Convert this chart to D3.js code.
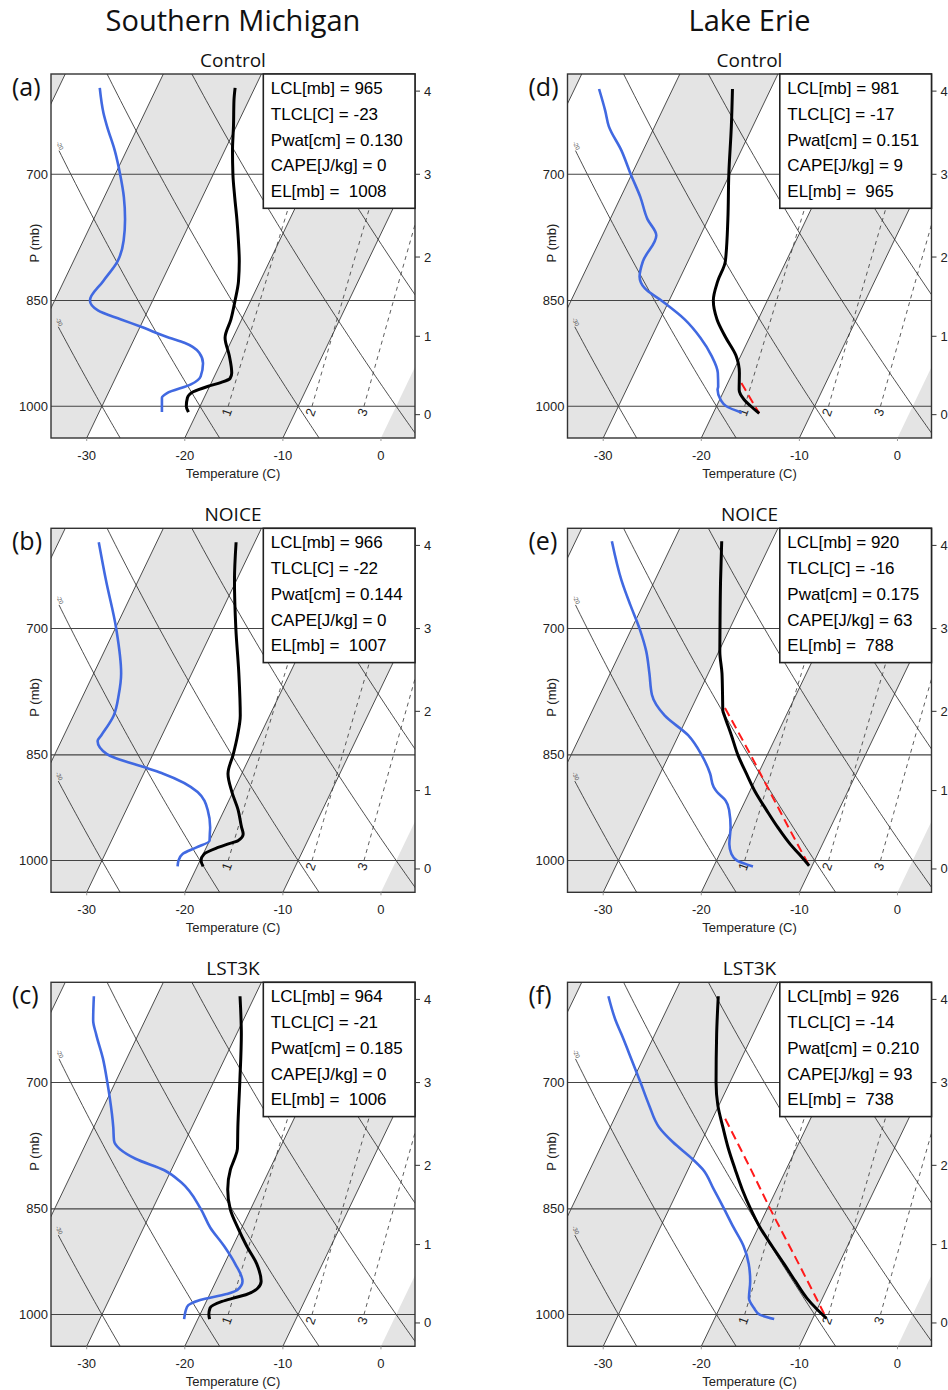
<!DOCTYPE html>
<html lang="en">
<head>
<meta charset="utf-8">
<title>Skew-T soundings</title>
<script src="https://cdn.jsdelivr.net/npm/d3@7"></script>
<style>
  body { margin: 0; background: #fff; }
  svg text { font-family: 'Liberation Sans', Arial, sans-serif; fill: #222; }
  svg text.big { font-family: 'Open Sans', sans-serif; fill: #111; }
</style>
</head>
<body>
<svg id="chart" width="948" height="1390"></svg>
<script>
// panels a,b,c = Southern Michigan, d,e,f = Lake Erie
var columnTitles = ["Southern Michigan", "Lake Erie"];
var rowTitles = ["Control", "NOICE", "LST3K"];
var panelLetters = ["(a)", "(b)", "(c)", "(d)", "(e)", "(f)"];

var lclMb = [965, 966, 964, 981, 920, 926];
var tlclC = [-23, -22, -21, -17, -16, -14];
var pwatCm = ["0.130", "0.144", "0.185", "0.151", "0.175", "0.210"];
var capeJkg = [0, 0, 0, 9, 63, 93];
var elMb = [1008, 1007, 1006, 965, 788, 738];

// soundings: [pressure (mb), value (C)]
var tempA = [[613,-32.0],[625,-31.5],[650,-30.3],[675,-29.2],[700,-28.0],[725,-26.7],[750,-25.4],[775,-24.2],[800,-23.1],[825,-22.2],[850,-21.6],[875,-21.1],[900,-20.8],[925,-19.5],[950,-18.4],[958,-18.3],[964,-19.0],[970,-20.2],[978,-21.4],[987,-21.7],[1000,-21.4],[1009,-20.9]];
var dewA = [[613,-45.8],[637,-44.2],[650,-43.2],[675,-41.2],[700,-39.5],[725,-38.0],[750,-36.8],[775,-35.9],[800,-35.5],[825,-36.0],[850,-36.4],[863,-35.1],[875,-32.3],[885,-29.9],[900,-26.5],[907,-24.7],[921,-22.7],[936,-21.8],[955,-21.4],[967,-22.0],[980,-24.0],[987,-24.3],[1009,-23.6]];

var tempB = [[613,-31.9],[650,-30.2],[700,-27.7],[750,-25.2],[800,-23.0],[825,-22.3],[850,-21.8],[875,-21.4],[900,-20.1],[925,-18.6],[950,-17.4],[960,-16.9],[970,-17.1],[975,-18.0],[980,-18.8],[990,-19.9],[1000,-19.9],[1009,-19.4]];
var dewB = [[613,-45.9],[650,-43.3],[700,-39.9],[750,-37.2],[775,-36.4],[800,-35.9],[825,-36.2],[832,-36.3],[849,-34.7],[868,-29.8],[875,-28.0],[900,-23.6],[925,-21.7],[950,-20.6],[960,-20.3],[970,-20.0],[980,-21.0],[990,-22.1],[1000,-22.2],[1009,-22.0]];

var tempC = [[613,-31.5],[650,-29.5],[700,-27.3],[750,-25.3],[775,-24.3],[788,-24.1],[800,-24.0],[825,-23.3],[850,-22.1],[875,-20.4],[900,-18.6],[925,-16.7],[950,-15.4],[960,-15.4],[970,-16.3],[975,-17.4],[980,-18.4],[990,-19.3],[1000,-19.1],[1007,-18.8]];
var dewC = [[613,-46.4],[636,-45.3],[650,-44.3],[675,-42.4],[700,-40.8],[715,-39.9],[750,-38.0],[765,-37.3],[787,-34.2],[801,-30.7],[816,-28.4],[850,-25.1],[875,-23.2],[900,-20.9],[925,-18.9],[950,-17.3],[963,-17.4],[969,-18.3],[978,-20.7],[988,-21.7],[1007,-21.4]];

var tempD = [[614,-33.9],[650,-32.2],[700,-30.1],[750,-28.0],[800,-26.2],[825,-26.0],[850,-25.5],[875,-24.2],[900,-22.4],[925,-20.5],[950,-19.3],[975,-18.5],[990,-17.5],[1000,-16.5],[1011,-15.3]];
var dewD = [[614,-47.5],[635,-45.8],[650,-44.7],[675,-42.2],[700,-40.1],[725,-38.0],[750,-36.2],[769,-34.5],[800,-34.6],[819,-34.2],[834,-33.1],[850,-30.8],[875,-27.5],[900,-25.0],[925,-23.0],[950,-21.5],[970,-20.8],[975,-20.7],[990,-19.9],[1000,-19.0],[1010,-17.1]];
var parcelD = [[965,-18.6],[1011,-15.3]];

var tempE = [[612,-35.1],[650,-33.3],[700,-31.0],[725,-29.9],[750,-28.6],[775,-27.5],[794,-26.7],[800,-26.3],[825,-24.6],[850,-23.0],[875,-21.2],[900,-19.4],[925,-17.4],[950,-15.4],[975,-13.3],[990,-11.9],[1008,-10.3]];
var dewE = [[612,-46.3],[650,-43.4],[675,-41.3],[700,-39.2],[725,-37.4],[750,-36.0],[775,-34.7],[800,-32.4],[825,-29.0],[850,-26.7],[875,-24.9],[893,-23.9],[900,-23.3],[912,-22.0],[925,-21.2],[950,-20.2],[975,-19.5],[990,-18.8],[1000,-17.9],[1009,-16.0]];
var parcelE = [[791,-26.6],[850,-21.7],[900,-17.9],[950,-14.3],[1008,-10.3]];

var tempF = [[613,-35.4],[650,-33.7],[700,-31.4],[725,-30.1],[750,-28.5],[775,-26.9],[800,-25.2],[825,-23.5],[850,-21.7],[875,-19.8],[900,-17.7],[925,-15.6],[950,-13.6],[975,-11.6],[990,-10.2],[1006,-8.6]];
var dewF = [[613,-46.6],[636,-44.7],[650,-43.4],[675,-41.2],[700,-39.1],[725,-37.1],[750,-35.0],[767,-32.9],[787,-30.1],[800,-28.5],[825,-26.4],[850,-24.4],[875,-22.5],[900,-20.6],[925,-19.2],[950,-18.2],[975,-17.5],[990,-16.5],[1000,-15.6],[1007,-13.9]];
var parcelF = [[740,-28.7],[800,-23.6],[850,-19.7],[925,-14.1],[1006,-8.6]];

var temps = [tempA, tempB, tempC, tempD, tempE, tempF];
var dews = [dewA, dewB, dewC, dewD, dewE, dewF];
var parcels = [null, null, null, parcelD, parcelE, parcelF];

// axes / background
var pressureTicks = [700, 850, 1000];
var tempTicks = [-30, -20, -10, 0];
var heightKm = [0, 1, 2, 3, 4];
var heightPres = [1013, 898, 795, 700, 616];
var shadedBands = [-60, -40, -20, 0];       // lower edge of 10 C shaded isotherm bands
var isotherms = [-60, -50, -40, -30, -20, -10];
var thetas = [-30, -20, -10, 0, 10, 20];     // dry adiabats, C at 1000 mb
var mixRatios = [1, 2, 3];                   // g/kg

var W = 364, H = 364, skew = 0.48;
var colX = [51, 567.5];
var rowY = [74, 528.3, 982.3];

var x = d3.scaleLinear().domain([-33.64, 3.47]).range([0, W]);
var y = d3.scaleLog().domain([1050, 600]).range([H, 0]);

function sx(T, p) { return x(T) + skew * (H - y(p)); }
function dryT(th, p) { return (th + 273.15) * Math.pow(p / 1000, 0.2857) - 273.15; }
function mixT(w, p) {
    var e = w * p / (622 + w);
    var L = Math.log(e / 6.112);
    return 243.5 * L / (17.67 - L);
}

var svg = d3.select("#chart");
var pGrid = d3.range(1050, 599, -5);

var profile = d3.line()
    .x(function(d) { return sx(d[1], d[0]); })
    .y(function(d) { return y(d[0]); })
    .curve(d3.curveMonotoneY);

// column headings
columnTitles.forEach(function(t, c) {
    svg.append("text").attr("class", "big")
        .attr("x", colX[c] + W / 2).attr("y", 31)
        .attr("text-anchor", "middle")
        .style("font-size", "29px")
        .text(t);
});

for (var c = 0; c < 2; c++) {
    for (var r = 0; r < 3; r++) {
        drawPanel(c * 3 + r, colX[c], rowY[r], rowTitles[r]);
    }
}

function drawPanel(i, ox, oy, title) {
    var g = svg.append("g").attr("transform", "translate(" + ox + "," + oy + ")");

    g.append("clipPath").attr("id", "clip" + i)
        .append("rect").attr("width", W).attr("height", H);

    var plot = g.append("g").attr("clip-path", "url(#clip" + i + ")");

    // shaded isotherm bands
    plot.selectAll("polygon.band").data(shadedBands).enter().append("polygon")
        .attr("class", "band")
        .attr("points", function(t) {
            return [[sx(t, 1050), H], [sx(t + 10, 1050), H], [sx(t + 10, 600), 0], [sx(t, 600), 0]].join(" ");
        })
        .attr("fill", "#e4e4e4");

    // isotherm lines
    plot.selectAll("line.iso").data(isotherms).enter().append("line")
        .attr("x1", function(t) { return sx(t, 1050); }).attr("y1", H)
        .attr("x2", function(t) { return sx(t, 600); }).attr("y2", 0)
        .attr("stroke", "#222").attr("stroke-width", 0.8);

    // dry adiabats
    thetas.forEach(function(th) {
        var pts = [], stopped = false;
        for (var k = 0; k < pGrid.length; k++) {
            var px = sx(dryT(th, pGrid[k]), pGrid[k]);
            if (px < 7) { stopped = true; break; }
            pts.push([px, y(pGrid[k])]);
        }
        if (pts.length < 2) return;
        plot.append("path").attr("d", d3.line()(pts))
            .attr("fill", "none").attr("stroke", "#222").attr("stroke-width", 0.8);
        if (stopped) {
            var e = pts[pts.length - 1];
            plot.append("text")
                .attr("transform", "translate(" + (e[0] - 1) + "," + (e[1] - 4) + ") rotate(62)")
                .attr("text-anchor", "middle")
                .style("font-size", "6px").style("fill", "#555")
                .text(th);
        }
    });

    // mixing ratio lines
    mixRatios.forEach(function(w) {
        var pts = d3.range(1000, 599, -10).map(function(p) { return [sx(mixT(w, p), p), y(p)]; });
        plot.append("path").attr("d", d3.line()(pts))
            .attr("fill", "none").attr("stroke", "#333").attr("stroke-width", 0.8)
            .attr("stroke-dasharray", "4,4");
        plot.append("text")
            .attr("transform", "translate(" + (sx(mixT(w, 1000), 1000) - 1.5) + "," + (y(1000) + 6) + ") rotate(-70)")
            .attr("text-anchor", "middle").attr("dominant-baseline", "central")
            .style("font-size", "13px")
            .text(w);
    });

    // pressure lines
    plot.selectAll("line.pl").data(pressureTicks).enter().append("line")
        .attr("x1", 0).attr("x2", W)
        .attr("y1", function(p) { return y(p); }).attr("y2", function(p) { return y(p); })
        .attr("stroke", "#444").attr("stroke-width", 1.1);

    // soundings
    plot.append("path").attr("d", profile(dews[i]))
        .attr("fill", "none").attr("stroke", "#4169e1").attr("stroke-width", 2.6)
        .attr("stroke-linejoin", "round");
    if (parcels[i]) {
        plot.append("path").attr("d", profile(parcels[i]))
            .attr("fill", "none").attr("stroke", "#ff1a1a").attr("stroke-width", 2)
            .attr("stroke-dasharray", "9,5");
    }
    plot.append("path").attr("d", profile(temps[i]))
        .attr("fill", "none").attr("stroke", "#000").attr("stroke-width", 3)
        .attr("stroke-linejoin", "round");

    // frame
    g.append("rect").attr("width", W).attr("height", H)
        .attr("fill", "none").attr("stroke", "#333").attr("stroke-width", 1.4);

    // stats box
    var bw = 151.7, bh = 134.3;
    g.append("rect").attr("x", W - bw).attr("y", 0).attr("width", bw).attr("height", bh)
        .attr("fill", "#fff").attr("stroke", "#222").attr("stroke-width", 1.6);
    var lines = ["LCL[mb] = " + lclMb[i], "TLCL[C] = " + tlclC[i], "Pwat[cm] = " + pwatCm[i],
                 "CAPE[J/kg] = " + capeJkg[i], "EL[mb] =  " + elMb[i]];
    g.selectAll("text.stat").data(lines).enter().append("text")
        .attr("x", W - bw + 7.5).attr("y", function(d, k) { return 20 + k * 25.75; })
        .style("font-size", "17px").style("white-space", "pre").style("fill", "#000")
        .text(function(d) { return d; });

    // left axis
    g.selectAll("text.pt").data(pressureTicks).enter().append("text")
        .attr("x", -3).attr("y", function(p) { return y(p) + 4.5; })
        .attr("text-anchor", "end").style("font-size", "13px")
        .text(function(p) { return p; });
    g.append("text")
        .attr("transform", "translate(-15," + 169 + ") rotate(-90)")
        .attr("text-anchor", "middle").attr("dominant-baseline", "middle")
        .style("font-size", "13px").text("P (mb)");

    // bottom axis
    g.selectAll("line.tt").data(tempTicks).enter().append("line")
        .attr("x1", function(t) { return x(t); }).attr("x2", function(t) { return x(t); })
        .attr("y1", H).attr("y2", H + 3).attr("stroke", "#999");
    g.selectAll("text.tt").data(tempTicks).enter().append("text")
        .attr("x", function(t) { return x(t); }).attr("y", H + 22)
        .attr("text-anchor", "middle").style("font-size", "13px")
        .text(function(t) { return t; });
    g.append("text").attr("x", W / 2).attr("y", H + 40)
        .attr("text-anchor", "middle").style("font-size", "13px")
        .text("Temperature (C)");

    // right axis: height (km)
    heightKm.forEach(function(h, k) {
        var yy = y(heightPres[k]);
        g.append("line").attr("x1", W).attr("x2", W + 5).attr("y1", yy).attr("y2", yy)
            .attr("stroke", "#333");
        g.append("text").attr("x", W + 9).attr("y", yy + 4.5)
            .style("font-size", "13px").text(h);
    });

    // titles
    g.append("text").attr("class", "big")
        .attr("x", W / 2).attr("y", -7).attr("text-anchor", "middle")
        .style("font-size", "19px").text(title);
    g.append("text").attr("class", "big")
        .attr("x", -39).attr("y", 22)
        .style("font-size", "25px").text(panelLetters[i]);
}
</script>
</body>
</html>
